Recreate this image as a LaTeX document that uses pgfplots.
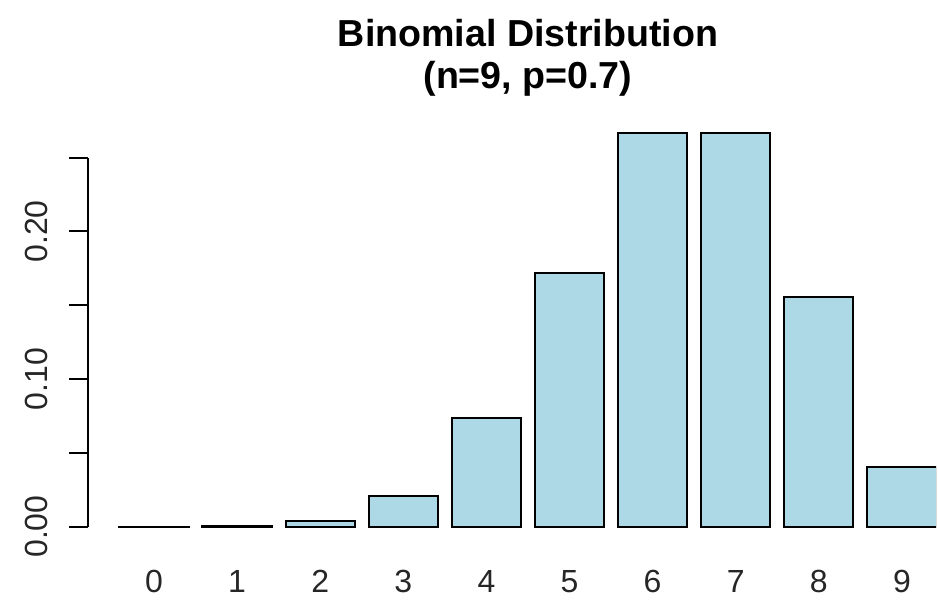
\documentclass[border=0pt]{standalone}
\usepackage{pgfplots}
\pgfplotsset{compat=1.18}
\usepackage{fontspec}
\setmainfont{Liberation Sans}
\definecolor{rlightblue}{HTML}{ADD8E6}

\begin{document}
\begin{tikzpicture}
\begin{axis}[
  scale only axis,
  width=424pt, height=212.7pt,
  xmin=-0.794, xmax=9.41,
  ymin=-0.0107, ymax=0.2775,
  axis line style={draw=none},
  clip mode=individual,
  xtick={0,1,2,3,4,5,6,7,8,9},
  xtick style={draw=none},
  xticklabel style={anchor=base, yshift=-15.5pt},
  ytick={0,0.05,0.1,0.15,0.2,0.25},
  yticklabels={0.00,,0.10,,0.20,},
  ytick pos=left,
  tick align=outside,
  major tick length=9.5pt,
  ytick style={line width=1pt, black},
  yticklabel style={xshift=-10.5pt, rotate=90, anchor=base},
  ticklabel style={font=\fontsize{16}{19}\selectfont, text=black!85},
  /pgf/number format/assume math mode=true,
]
\addplot[ybar, bar width=0.8333, fill=rlightblue, draw=black, line width=1pt]
  coordinates {
  (0,0.0000197) (1,0.000413) (2,0.003858) (3,0.021003) (4,0.073514)
  (5,0.171532) (6,0.266828) (7,0.266828) (8,0.155650) (9,0.040354)
};
\draw[line width=1pt] (axis cs:-0.794,0) -- (axis cs:-0.794,0.25);
\node[anchor=base, font=\bfseries\fontsize{18.8}{22}\selectfont]
  at ([yshift=35pt]axis cs:4.5,0.2775) {Binomial Distribution};
\node[anchor=base, font=\bfseries\fontsize{18.8}{22}\selectfont]
  at ([yshift=14pt]axis cs:4.5,0.2775) {(n=9, p=0.7)};
\end{axis}
\pgfresetboundingbox
\path[use as bounding box] ([xshift=-44pt,yshift=-29.5pt]current axis.south west)
  rectangle ([xshift=1pt,yshift=58.5pt]current axis.north east);
\end{tikzpicture}
\end{document}
